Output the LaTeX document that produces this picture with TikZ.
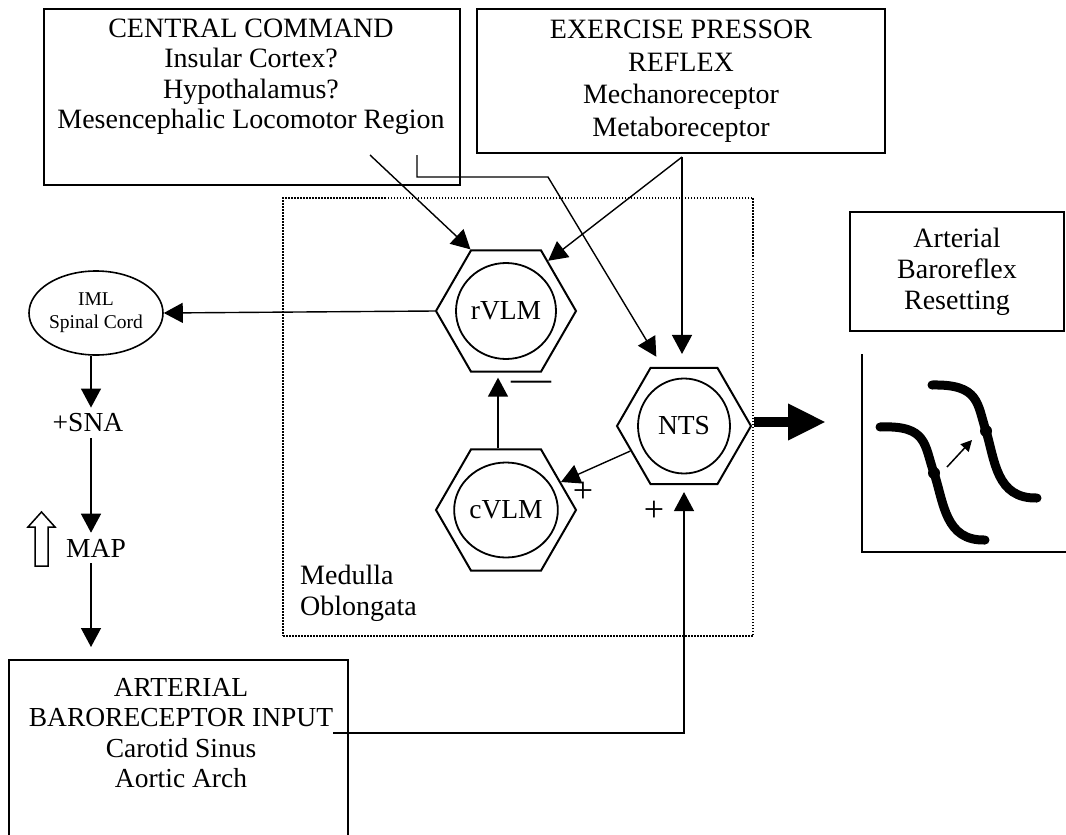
\documentclass[tikz,border=0pt]{standalone}
\usepackage{fontspec}
\setmainfont{Liberation Serif}
\usetikzlibrary{arrows.meta,shapes.geometric,calc}
\begin{document}
\begin{tikzpicture}[x=1pt,y=-1pt,
  txt/.style={font=\fontsize{28}{31}\selectfont, align=center, inner sep=0pt},
  box/.style={draw, line width=2pt, inner sep=0pt},
  hexa/.style={draw, line width=2pt, regular polygon, regular polygon sides=6, inner sep=0pt},
  ring/.style={draw, line width=1.8pt, ellipse, inner sep=0pt, font=\fontsize{27.5}{31}\selectfont},
  lbl/.style={font=\fontsize{27.5}{31}\selectfont, inner sep=6pt},
  conn/.style={line width=1.4pt},
  arr/.style={conn, -{Triangle[length=19pt,width=20pt]}},
  curve/.style={line width=9pt, line cap=round},
]
\clip (0,0) rectangle (1066,835);
\fill[white] (0,0) rectangle (1066,835);

% boxes
\node[box, minimum width=416, minimum height=176] (cc) at (252,97) {};
\node[txt, font=\fontsize{28}{30.5}\selectfont] (cctext) at (251,77) {CENTRAL COMMAND\\Insular Cortex?\\Hypothalamus?\\Mesencephalic Locomotor Region};
\node[box, txt, font=\fontsize{28}{32.5}\selectfont, minimum width=408, minimum height=144] (ex) at (681,81) {EXERCISE PRESSOR\\REFLEX\\Mechanoreceptor\\Metaboreceptor};
\node[box, txt, minimum width=214, minimum height=119] (abrs) at (957,271.5) {Arterial\\Baroreflex\\Resetting};
\node[box, minimum width=339, minimum height=240] (abi) at (178.5,780) {};
\node[txt, font=\fontsize{27.5}{30.5}\selectfont] (abitext) at (181,733) {ARTERIAL\\BARORECEPTOR INPUT\\Carotid Sinus\\Aortic Arch};

% medulla
\node[draw, line width=1.5pt, dash pattern=on 1.5pt off 1.5pt, minimum width=470, minimum height=438, inner sep=0pt] (med) at (518,417) {};
\node[txt, align=left, anchor=west] (medtext) at (300,593) {Medulla\\Oblongata};

% hexagons
\node[hexa, minimum size=140] (rvlm) at (506,311) {};
\node[ring, minimum width=100, minimum height=96] (rvlmc) at (rvlm) {rVLM};
\node[hexa, minimum size=134] (nts) at (684,426) {};
\node[ring, minimum width=92, minimum height=95] (ntsc) at (nts) {NTS};
\node[hexa, minimum size=140] (cvlm) at (506,510) {};
\node[ring, minimum width=100, minimum height=95] (cvlmc) at (cvlm) {cVLM};

% left column
\node[draw, ellipse, line width=1.6pt, minimum width=134, minimum height=84, inner sep=0pt, align=center, font=\fontsize{19.5}{23}\selectfont] (iml) at (96,313) {IML\\Spinal Cord};
\node[lbl] (sna) at (88,423) {+SNA};
\node[lbl] (map) at (96,548) {MAP};
\draw[line width=1.5pt, fill=white] (35,566) -- (35,527) -- (28,527) -- (41.5,512) -- (55,527) -- (48,527) -- (48,566) -- cycle;

\coordinate (colx) at (91,0);
\draw[arr] (colx |- iml.south) -- (colx |- sna.north);
\draw[arr] (colx |- sna.south) -- (colx |- map.north);
\draw[arr, shorten >=12pt] (colx |- map.south) -- (colx |- abi.north);
\draw[arr] (rvlm.180) -- (iml.east);

% from central command
\coordinate (ccA) at (370,155);
\coordinate (ccB) at (417,155);
\coordinate (ccB1) at (417,177);
\coordinate (ccB2) at (548,177);
\draw[arr] (ccA) -- (rvlm.120);
\draw[arr, shorten >=12pt] (ccB) -- (ccB1) -- (ccB2) -- (nts.110);

% from exercise pressor reflex
\coordinate (exA) at (682,157);
\draw[arr] (exA) -- (rvlm.50);
\draw[arr, shorten >=13pt] (exA) -- (exA |- nts.north);

% inside medulla
\draw[arr, shorten >=5pt] ([xshift=-8pt]cvlm.north) -- ([xshift=-8pt]rvlm.south);
\draw[arr] (nts.205) -- (cvlm.27);
\coordinate (abiA) at (333,733);
\draw[arr, shorten >=7pt] (abiA) -| (nts.south);

% signs
\node[font=\fontsize{40}{40}\selectfont, inner sep=0pt] (minus) at (531,386) {—};
\node[font=\fontsize{36}{36}\selectfont, inner sep=0pt] (plus1) at (583,492) {+};
\node[font=\fontsize{36}{36}\selectfont, inner sep=0pt] (plus2) at (654,511) {+};

% big arrow
\coordinate (bigtip) at (826,422);
\draw[line width=10pt, -{Triangle[length=38pt,width=34pt]}] ([shift={(2,-4)}]nts.east) -- (bigtip);

% graph
\coordinate (gtop) at (862,354);
\coordinate (gorig) at (862,552);
\coordinate (gright) at (1070,552);
\draw[line width=2pt] (gtop) -- (gorig) -- (gright);
\draw[curve] (880,427) .. controls (928,425) and (924,445) .. (934,473) .. controls (944,503) and (945,541) .. (985,540);
\draw[curve] (932,385) .. controls (980,384) and (977,404) .. (986,431) .. controls (995,460) and (996,499) .. (1037,498);
\fill (934,473) circle (6pt);
\fill (986,431) circle (6pt);
\coordinate (sa) at (947,467);
\coordinate (sb) at (972,440);
\draw[line width=1.5pt, -{Triangle[length=11pt,width=11pt]}] (sa) -- (sb);
\end{tikzpicture}
\end{document}
